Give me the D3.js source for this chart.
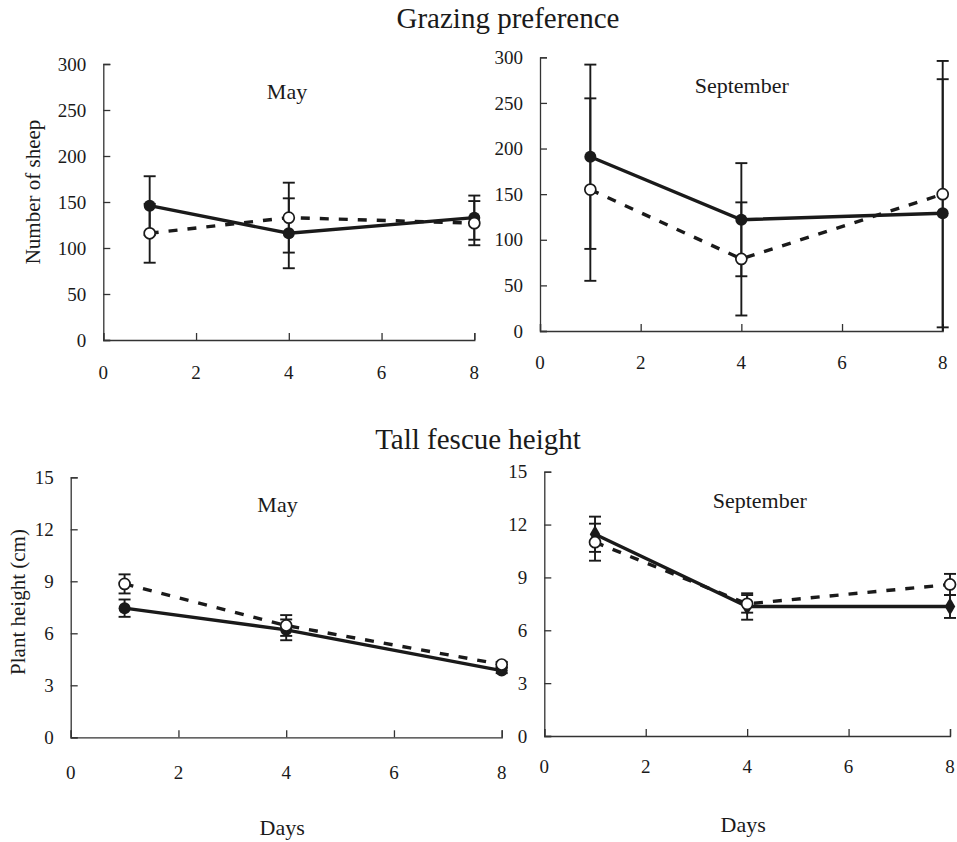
<!DOCTYPE html>
<html>
<head>
<meta charset="utf-8">
<script src="https://cdn.jsdelivr.net/npm/d3@7"></script>
<style>
  body { margin: 0; background: #fff; }
  svg { display: block; }
  svg text { font-family: "Liberation Serif", "Times New Roman", serif; }
</style>
</head>
<body>
<svg id="chart" width="957" height="842"></svg>
<script>
// sampling days (x) and axis ticks
const days = [1, 4, 8];
const dayTicks = [0, 2, 4, 6, 8];
const sheepTicks = [0, 50, 100, 150, 200, 250, 300];
const heightTicks = [0, 3, 6, 9, 12, 15];

// Grazing preference: number of sheep, mean and error
const sheepMayFilled = [146, 116, 133];
const sheepMayFilledErr = [32, 38, 24];
const sheepMayOpen = [116, 133, 127];
const sheepMayOpenErr = [32, 38, 24];

const sheepSepFilled = [191, 122, 129];
const sheepSepFilledErr = [101, 62, 147];
const sheepSepOpen = [155, 79, 150];
const sheepSepOpenErr = [100, 62, 146];

// Tall fescue height (cm), mean and error
const heightMayFilled = [7.45, 6.2, 3.85];
const heightMayFilledErr = [0.5, 0.6, 0.15];
const heightMayOpen = [8.85, 6.45, 4.2];
const heightMayOpenErr = [0.55, 0.6, 0.15];

const heightSepFilled = [11.45, 7.35, 7.35];
const heightSepFilledErr = [1.0, 0.75, 0.65];
const heightSepOpen = [11.0, 7.5, 8.6];
const heightSepOpenErr = [1.05, 0.5, 0.6];

const ink = '#1a1a1a';
const serif = '"Liberation Serif", "Times New Roman", serif';
const svg = d3.select('#chart');

const series = (ys, errs) => days.map((d, i) => ({ x: d, y: ys[i], e: errs[i] }));

const panels = [
	{
		title: 'May', titleX: 287, titleY: 99,
		left: 103.3, right: 474.3, top: 64, bottom: 340, xLabelGap: 32,
		yMax: 300, yTicks: sheepTicks,
		yLabel: 'Number of sheep', yLabelX: 33, yLabelY: 192,
		filled: series(sheepMayFilled, sheepMayFilledErr),
		open: series(sheepMayOpen, sheepMayOpenErr)
	},
	{
		title: 'September', titleX: 741.7, titleY: 92.7,
		left: 540, right: 942.7, top: 57.3, bottom: 331, xLabelGap: 31,
		yMax: 300, yTicks: sheepTicks,
		filled: series(sheepSepFilled, sheepSepFilledErr),
		open: series(sheepSepOpen, sheepSepOpenErr)
	},
	{
		title: 'May', titleX: 277.5, titleY: 511.7,
		left: 70.7, right: 501.7, top: 477.3, bottom: 737.3, xLabelGap: 35,
		yMax: 15, yTicks: heightTicks,
		yLabel: 'Plant height (cm)', yLabelX: 18, yLabelY: 602,
		xLabel: 'Days', xLabelY: 835,
		filled: series(heightMayFilled, heightMayFilledErr),
		open: series(heightMayOpen, heightMayOpenErr)
	},
	{
		title: 'September', titleX: 759.7, titleY: 508.3,
		left: 544.3, right: 950, top: 471.7, bottom: 736, xLabelGap: 30,
		yMax: 15, yTicks: heightTicks,
		xLabel: 'Days', xLabelY: 832,
		diamond: true,
		filled: series(heightSepFilled, heightSepFilledErr),
		open: series(heightSepOpen, heightSepOpenErr)
	}
];

svg.append('text')
	.attr('x', 508).attr('y', 28)
	.attr('text-anchor', 'middle')
	.attr('font-family', serif)
	.attr('font-size', 29).attr('fill', ink)
	.text('Grazing preference');

svg.append('text')
	.attr('x', 478).attr('y', 449)
	.attr('text-anchor', 'middle')
	.attr('font-family', serif)
	.attr('font-size', 29).attr('fill', ink)
	.text('Tall fescue height');

function drawPanel(p) {
	let x = d3.scaleLinear().domain([0, 8]).range([p.left, p.right]);
	let y = d3.scaleLinear().domain([0, p.yMax]).range([p.bottom, p.top]);
	let g = svg.append('g').attr('font-family', serif);

	// axes: ticks point inward, labels set a little off the line
	let yAxis = g.append('g')
		.attr('transform', `translate(${p.left},0)`)
		.call(d3.axisRight(y).tickValues(p.yTicks).tickSize(7).tickFormat(''));
	let xAxis = g.append('g')
		.attr('transform', `translate(0,${p.bottom})`)
		.call(d3.axisTop(x).tickValues(dayTicks).tickSize(7).tickFormat(''));
	[yAxis, xAxis].forEach(a => {
		a.select('.domain').attr('stroke', '#333').attr('stroke-width', 1.3);
		a.selectAll('.tick line').attr('stroke', '#333').attr('stroke-width', 1.3);
	});

	g.selectAll('text.ylab')
		.data(p.yTicks)
		.join('text')
		.attr('class', 'ylab')
		.attr('x', p.left - 17)
		.attr('y', d => y(d))
		.attr('dy', '0.35em')
		.attr('text-anchor', 'end')
		.attr('font-family', serif)
		.attr('font-size', 19)
		.attr('fill', ink)
		.text(d => d);

	g.selectAll('text.xlab')
		.data(dayTicks)
		.join('text')
		.attr('class', 'xlab')
		.attr('x', d => x(d))
		.attr('y', p.bottom + p.xLabelGap)
		.attr('dy', '0.35em')
		.attr('text-anchor', 'middle')
		.attr('font-family', serif)
		.attr('font-size', 19)
		.attr('fill', ink)
		.text(d => d);

	g.append('text')
		.attr('x', p.titleX).attr('y', p.titleY)
		.attr('text-anchor', 'middle')
		.attr('font-family', serif)
		.attr('font-size', 22).attr('fill', ink)
		.text(p.title);

	if (p.yLabel) {
		g.append('text')
			.attr('transform', `translate(${p.yLabelX},${p.yLabelY}) rotate(-90)`)
			.attr('dy', '0.35em')
			.attr('text-anchor', 'middle')
			.attr('font-family', serif)
			.attr('font-size', 21).attr('fill', ink)
			.text(p.yLabel);
	}
	if (p.xLabel) {
		g.append('text')
			.attr('x', (p.left + p.right) / 2 - 4).attr('y', p.xLabelY)
			.attr('text-anchor', 'middle')
			.attr('font-family', serif)
			.attr('font-size', 22).attr('fill', ink)
			.text(p.xLabel);
	}

	// error bars; a bar running under zero stops at the axis with no cap
	let bars = p.filled.concat(p.open);
	let eb = g.append('g').attr('stroke', ink).attr('stroke-width', 1.9);
	bars.forEach(d => {
		let lo = d.y - d.e, hi = d.y + d.e;
		let loY = y(Math.max(lo, 0));
		eb.append('line')
			.attr('x1', x(d.x)).attr('x2', x(d.x))
			.attr('y1', y(hi)).attr('y2', loY);
		eb.append('line')
			.attr('x1', x(d.x) - 6).attr('x2', x(d.x) + 6)
			.attr('y1', y(hi)).attr('y2', y(hi));
		if (lo >= 0) {
			eb.append('line')
				.attr('x1', x(d.x) - 6).attr('x2', x(d.x) + 6)
				.attr('y1', loY).attr('y2', loY);
		}
	});

	let line = d3.line().x(d => x(d.x)).y(d => y(d.y));

	g.append('path')
		.datum(p.filled)
		.attr('d', line)
		.attr('fill', 'none')
		.attr('stroke', ink)
		.attr('stroke-width', 3.4);

	g.append('path')
		.datum(p.open)
		.attr('d', line)
		.attr('fill', 'none')
		.attr('stroke', ink)
		.attr('stroke-width', 3.4)
		.attr('stroke-dasharray', '9,10');

	if (p.diamond) {
		g.selectAll('path.filled')
			.data(p.filled)
			.join('path')
			.attr('class', 'filled')
			.attr('transform', d => `translate(${x(d.x)},${y(d.y)})`)
			.attr('d', d3.symbol(d3.symbolDiamond, 95))
			.attr('fill', ink);
	} else {
		g.selectAll('circle.filled')
			.data(p.filled)
			.join('circle')
			.attr('class', 'filled')
			.attr('cx', d => x(d.x))
			.attr('cy', d => y(d.y))
			.attr('r', 6)
			.attr('fill', ink);
	}

	g.selectAll('circle.open')
		.data(p.open)
		.join('circle')
		.attr('class', 'open')
		.attr('cx', d => x(d.x))
		.attr('cy', d => y(d.y))
		.attr('r', 5.5)
		.attr('fill', '#fff')
		.attr('stroke', ink)
		.attr('stroke-width', 1.7);
}

panels.forEach(drawPanel);
</script>
</body>
</html>
